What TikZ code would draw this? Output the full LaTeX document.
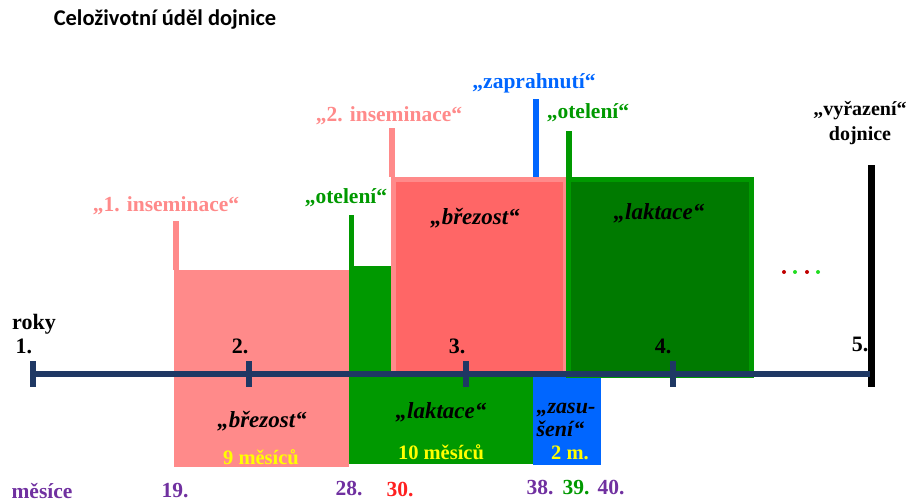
\documentclass[tikz,border=0pt]{standalone}
\usepackage{fontspec}
\setmainfont{Liberation Serif}
\newfontfamily\titlefont{Carlito}
\definecolor{pinkA}{HTML}{FF8A8A}
\definecolor{redB}{HTML}{FF6666}
\definecolor{greenA}{HTML}{009900}
\definecolor{greenD}{HTML}{007A00}
\definecolor{blueZ}{HTML}{0066FF}
\definecolor{axisC}{RGB}{31,56,100}
\definecolor{purpleM}{HTML}{7030A0}
\definecolor{yellowT}{HTML}{FFFF00}
\definecolor{redM}{HTML}{FF2020}
\definecolor{dotR}{HTML}{C00000}
\definecolor{dotG}{HTML}{22DD22}
\tikzset{
  evlabel/.style={font=\fontsize{21.5}{23}\selectfont\bfseries, inner sep=0pt},
  phase/.style={font=\fontsize{23}{25}\selectfont\bfseries\itshape, inner sep=0pt, text=black},
  dur/.style={font=\fontsize{20.5}{22}\selectfont\bfseries, inner sep=0pt, text=yellowT},
  year/.style={font=\fontsize{22}{24}\selectfont\bfseries, inner sep=0pt},
  month/.style={font=\fontsize{21.5}{23}\selectfont\bfseries, inner sep=0pt, text=purpleM},
  tick/.style={draw=axisC, line width=6pt},
}
\begin{document}
\begin{tikzpicture}[x=1pt,y=-1pt]
\useasboundingbox (0,0) rectangle (911,502);

% title
\node[font=\titlefont\fontsize{22.5}{24}\selectfont\bfseries, inner sep=0pt] (title) at (165,20) {Celoživotní úděl dojnice};

% first pregnancy
\fill[pinkA] (174,270) rectangle (349,467);
\fill[pinkA] (173,221) rectangle (179,270);
% first lactation
\fill[greenA] (349,266) rectangle (533,464);
\fill[greenA] (349,215) rectangle (354,266);
% dry period
\fill[blueZ] (533,376) rectangle (601,465);
% second pregnancy
\fill[redB] (391,177) rectangle (566,374);
\draw[pinkA, line width=5pt] (393.5,179.5) -- (393.5,374) (391,179.5) -- (566,179.5);
\draw[pinkA, line width=3pt] (564.5,179.5) -- (564.5,374);
\fill[pinkA] (389,128) rectangle (395,177);
% drying off marker
\fill[blueZ] (533,99) rectangle (539,177);
% second lactation
\fill[greenD] (566,177) rectangle (754,374);
\draw[greenA, line width=5pt] (568.5,179.5) rectangle (751.5,376);
\fill[greenA] (566,131) rectangle (572,177);

% culling
\fill[black] (868,165) rectangle (875,387);

% time axis
\coordinate (y1) at (33,374);
\coordinate (y2) at (249,374);
\coordinate (y3) at (466,374);
\coordinate (y4) at (673,374);
\coordinate (y5) at (870,374);
\draw[axisC, line width=6pt] (y1) -- (y5);
\foreach \t in {y1,y2,y3,y4}
  \draw[tick] ([yshift=-13pt]\t) -- ([yshift=13pt]\t);

% continuation dots
\fill[dotR] (784,272) circle (2);
\fill[dotG] (795,272) circle (2);
\fill[dotR] (807,272) circle (2);
\fill[dotG] (818,272) circle (2);

% event labels
\node[evlabel, text=pinkA] (ins1) at (166,206) {„1. inseminace“};
\node[evlabel, text=greenA] (ot1) at (346,198) {„otelení“};
\node[evlabel, text=pinkA] (ins2) at (389,116) {„2. inseminace“};
\node[evlabel, text=blueZ] (zap) at (534,83) {„zaprahnutí“};
\node[evlabel, text=greenA] (ot2) at (588,113) {„otelení“};
\node[font=\fontsize{20}{25}\selectfont\bfseries, inner sep=0pt, align=center] (vyr) at (860,123) {„vyřazení“\\dojnice};

% phase labels
\node[phase] (bre2) at (475,218) {„březost“};
\node[phase] (lak2) at (659,213) {„laktace“};
\node[phase] (bre1) at (262,421) {„březost“};
\node[dur] (d9) at (261,457) {9 měsíců};
\node[phase] (lak1) at (441,412) {„laktace“};
\node[dur] (d10) at (441,452) {10 měsíců};
\node[phase, align=left, font=\fontsize{22}{23}\selectfont\bfseries\itshape] (zas) at (566,420) {„zasu-\\ šení“};
\node[dur] (d2) at (570,453) {2 m.};

% years
\node[year] (roky) at (34,324) {roky};
\node[year] (r1) at (24,346) {1.};
\node[year] (r2) at (240,346) {2.};
\node[year] (r3) at (457,346) {3.};
\node[year] (r4) at (663,346) {4.};
\node[year] (r5) at (860,344) {5.};

% months
\node[month] (mes) at (42,491) {měsíce};
\node[month] (m19) at (175,491) {19.};
\node[month] (m28) at (349,489) {28.};
\node[month, text=redM] (m30) at (400,490) {30.};
\node[month] (m38) at (540,488) {38.};
\node[month, text=greenA] (m39) at (576,488) {39.};
\node[month] (m40) at (611,488) {40.};
\end{tikzpicture}
\end{document}
